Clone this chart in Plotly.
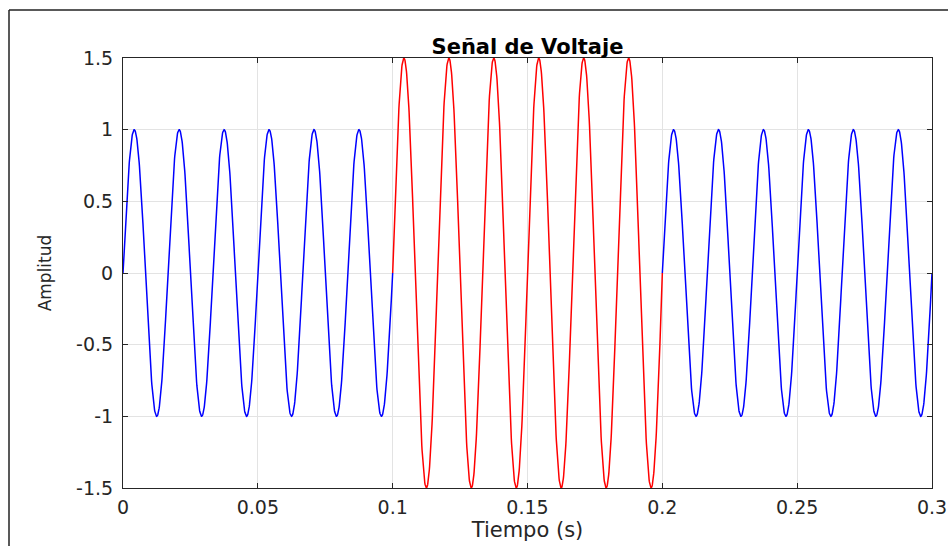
import numpy as np
import plotly.graph_objects as go

# Signal description
freq_hz = 60
segment_start = [0.0, 0.1, 0.2]
segment_end = [0.1, 0.2, 0.3]
segment_amplitude = [1.0, 1.5, 1.0]
segment_color = ["#0000ff", "#ff0000", "#0000ff"]

x_ticks = [0, 0.05, 0.1, 0.15, 0.2, 0.25, 0.3]
x_tick_labels = ["0", "0.05", "0.1", "0.15", "0.2", "0.25", "0.3"]
y_ticks = [-1.5, -1, -0.5, 0, 0.5, 1, 1.5]
y_tick_labels = ["-1.5", "-1", "-0.5", "0", "0.5", "1", "1.5"]

fig = go.Figure()
for s, e, a, c in zip(segment_start, segment_end, segment_amplitude, segment_color):
    t = np.linspace(s, e, 1001)
    v = a * np.sin(2 * np.pi * freq_hz * t)
    fig.add_trace(go.Scatter(x=t, y=v, mode="lines", line=dict(color=c, width=1.5),
                             showlegend=False, hoverinfo="skip"))

FONT = "DejaVu Sans"
TICKC = "#262626"
axis_common = dict(
    showline=True, linecolor=TICKC, linewidth=1, mirror="allticks",
    ticks="inside", ticklen=5, tickwidth=1, tickcolor=TICKC,
    showgrid=True, gridcolor="#e3e3e3", gridwidth=1, zeroline=False,
    automargin=False, ticklabeloverflow="allow",
    tickfont=dict(family=FONT, size=19, color=TICKC),
)

L, R, T, B = 123, 16, 58, 58

fig.update_layout(
    width=948, height=546,
    margin=dict(l=L, r=R, t=T, b=B),
    paper_bgcolor="white", plot_bgcolor="white",
    title=dict(text="<b>Señal de Voltaje</b>", x=0.5, xref="paper", xanchor="center",
               y=1, yref="paper", yanchor="bottom", pad=dict(b=4),
               font=dict(family=FONT, size=21, color="black")),
    xaxis=dict(range=[0, 0.3], tickvals=x_ticks, ticktext=x_tick_labels,
               title=dict(text="Tiempo (s)", font=dict(family=FONT, size=21, color=TICKC), standoff=0),
               ticklabelstandoff=2, **axis_common),
    yaxis=dict(range=[-1.5, 1.5], tickvals=y_ticks, ticktext=y_tick_labels,
               title=dict(text="Amplitud", font=dict(family=FONT, size=17, color=TICKC), standoff=20),
               ticklabelstandoff=5, **axis_common),
    shapes=[
        dict(type="line", xref="paper", yref="paper", x0=(9 - L) / 809, x1=1.05,
             y0=(488 - 10) / 430, y1=(488 - 10) / 430, line=dict(color="#222222", width=1.5)),
        dict(type="line", xref="paper", yref="paper", x0=(9 - L) / 809, x1=(9 - L) / 809,
             y0=(488 - 10) / 430, y1=-0.2, line=dict(color="#222222", width=1.5)),
    ],
)

fig.write_html("out.html")
